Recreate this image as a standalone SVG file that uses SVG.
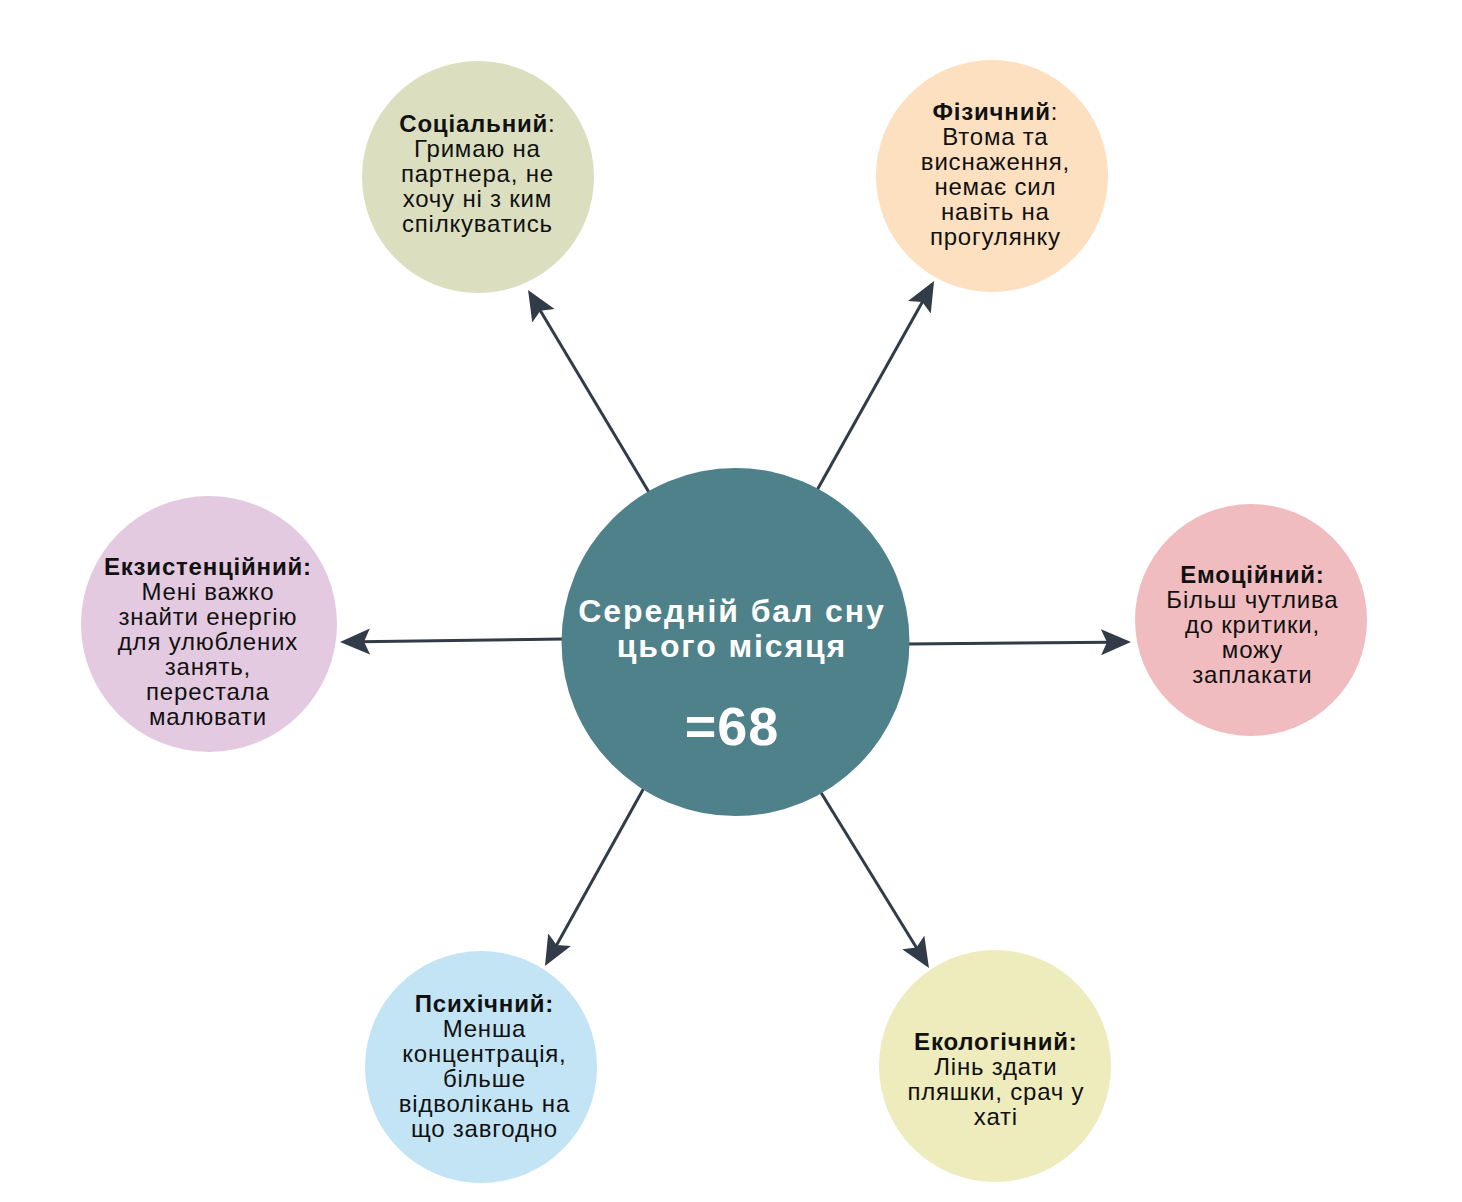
<svg xmlns="http://www.w3.org/2000/svg" width="1462" height="1202" viewBox="0 0 1462 1202">
<defs>
<style>
.t{font-family:"Liberation Sans",Arial,sans-serif;font-size:24px;letter-spacing:0.8px;fill:#111;text-anchor:middle}
.b{font-weight:bold}
.c{font-family:"Liberation Sans",Arial,sans-serif;font-weight:bold;fill:#fff;text-anchor:middle}
.conn{stroke:#313c48;stroke-width:3;fill:none;marker-end:url(#arr)}
</style>
<marker id="arr" markerUnits="userSpaceOnUse" markerWidth="32" markerHeight="28" refX="10" refY="13" orient="auto" viewBox="0 0 32 28">
<path d="M0,0 L30,13 L0,26 L6,13 Z" fill="#313c48"/>
</marker>
</defs>
<rect width="1462" height="1202" fill="#fff"/>
<g id="connectors">
<line class="conn" x1="650" y1="494" x2="538.3" y2="307.2"/>
<line class="conn" x1="816" y1="492" x2="924.3" y2="298.5"/>
<line class="conn" x1="565" y1="639" x2="360" y2="641.7"/>
<line class="conn" x1="907" y1="644" x2="1111" y2="642.2"/>
<line class="conn" x1="645" y1="786" x2="554.7" y2="948.5"/>
<line class="conn" x1="820" y1="791" x2="918.5" y2="951"/>
</g>
<g id="center">
<circle cx="735.5" cy="642" r="174" fill="#4e8189"/>
<text class="c" x="732" y="622" font-size="32" letter-spacing="1.9">Середній бал сну</text>
<text class="c" x="732" y="657" font-size="32" letter-spacing="1.9">цього місяця</text>
<text class="c" x="732" y="745" font-size="54" letter-spacing="1">=68</text>
</g>
<g id="social">
<circle cx="478" cy="177" r="116" fill="#dbdfc0"/>
<text class="t" x="477.4" y="132"><tspan class="b">Соціальний</tspan>:</text>
<text class="t" x="477.4" y="157">Гримаю на</text>
<text class="t" x="477.4" y="182">партнера, не</text>
<text class="t" x="477.4" y="207">хочу ні з ким</text>
<text class="t" x="477.4" y="232">спілкуватись</text>
</g>
<g id="physical">
<circle cx="992" cy="176" r="116" fill="#fde0c0"/>
<text class="t" x="995.4" y="120"><tspan class="b">Фізичний</tspan>:</text>
<text class="t" x="995.4" y="145">Втома та</text>
<text class="t" x="995.4" y="170">виснаження,</text>
<text class="t" x="995.4" y="195">немає сил</text>
<text class="t" x="995.4" y="220">навіть на</text>
<text class="t" x="995.4" y="245">прогулянку</text>
</g>
<g id="existential">
<circle cx="209" cy="624" r="128" fill="#e4cae0"/>
<text class="t b" x="207.9" y="575">Екзистенційний:</text>
<text class="t" x="207.9" y="600">Мені важко</text>
<text class="t" x="207.9" y="625">знайти енергію</text>
<text class="t" x="207.9" y="650">для улюблених</text>
<text class="t" x="207.9" y="675">занять,</text>
<text class="t" x="207.9" y="700">перестала</text>
<text class="t" x="207.9" y="725">малювати</text>
</g>
<g id="emotional">
<circle cx="1251" cy="620" r="116" fill="#f0bcc0"/>
<text class="t b" x="1252.4" y="583">Емоційний:</text>
<text class="t" x="1252.4" y="608">Більш чутлива</text>
<text class="t" x="1252.4" y="633">до критики,</text>
<text class="t" x="1252.4" y="658">можу</text>
<text class="t" x="1252.4" y="683">заплакати</text>
</g>
<g id="psychic">
<circle cx="481" cy="1067" r="116" fill="#c2e4f5"/>
<text class="t b" x="484.4" y="1012">Психічний:</text>
<text class="t" x="484.4" y="1037">Менша</text>
<text class="t" x="484.4" y="1062">концентрація,</text>
<text class="t" x="484.4" y="1087">більше</text>
<text class="t" x="484.4" y="1112">відволікань на</text>
<text class="t" x="484.4" y="1137">що завгодно</text>
</g>
<g id="ecological">
<circle cx="995" cy="1066" r="116" fill="#eeebbd"/>
<text class="t b" x="995.9" y="1050">Екологічний:</text>
<text class="t" x="995.9" y="1075">Лінь здати</text>
<text class="t" x="995.9" y="1100">пляшки, срач у</text>
<text class="t" x="995.9" y="1125">хаті</text>
</g>
</svg>
